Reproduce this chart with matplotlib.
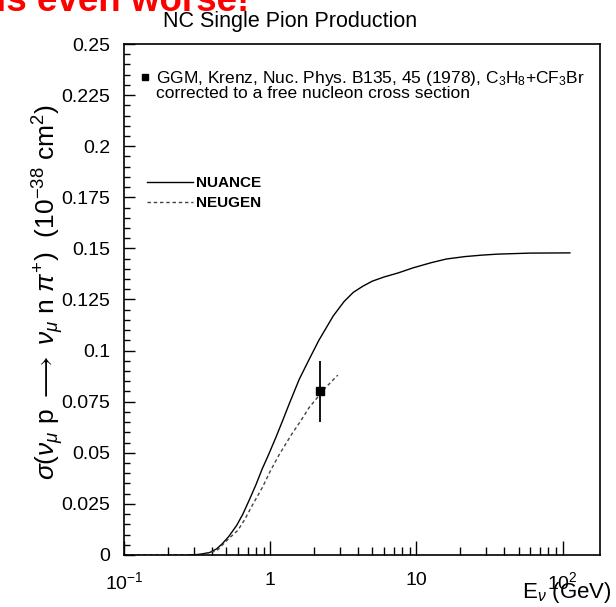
import numpy as np
import matplotlib
matplotlib.use("Agg")
import matplotlib.pyplot as plt
from matplotlib.lines import Line2D
from matplotlib.ticker import FixedLocator, FixedFormatter, LogLocator, MultipleLocator, FormatStrFormatter

# NUANCE (solid)
nuance_e = [0.28, 0.33, 0.385, 0.43, 0.47, 0.52, 0.59, 0.65, 0.72, 0.8, 0.88, 0.98, 1.1,
            1.22, 1.35, 1.58, 1.84, 2.15, 2.7, 3.2, 3.7, 4.3, 5.0, 6.0, 7.5, 9.5, 12.6,
            16.0, 21.5, 28.0, 36.0, 60.0, 112.0]
nuance_xs = [0.0, 0.0003, 0.0012, 0.003, 0.0055, 0.009, 0.0145, 0.020, 0.027, 0.0345, 0.042,
             0.0495, 0.058, 0.066, 0.074, 0.086, 0.0955, 0.105, 0.117, 0.124, 0.1285, 0.1315,
             0.134, 0.136, 0.138, 0.1405, 0.1430, 0.1448, 0.1460, 0.1467, 0.1472, 0.1477, 0.1478]

# NEUGEN (dashed)
neugen_e = [0.1, 0.2, 0.3, 0.35, 0.43, 0.52, 0.6, 0.665, 0.75, 0.883, 1.0, 1.15, 1.4, 1.63,
            1.84, 2.1, 2.4, 2.9]
neugen_xs = [0.0, 0.0, 0.0, 0.0005, 0.002, 0.008, 0.012, 0.017, 0.024, 0.033, 0.041, 0.049,
             0.059, 0.066, 0.072, 0.077, 0.082, 0.088]

# GGM data point
ggm_e = [2.2]
ggm_xs = [0.080]
ggm_err = [0.015]

xtick_vals = [0.1, 1, 10, 100]
xtick_labels = [r"$10^{-1}$", "1", "10", r"$10^{2}$"]

plt.rcParams['font.family'] = ['Liberation Sans', 'DejaVu Sans']
plt.rcParams['mathtext.fontset'] = 'custom'
plt.rcParams['mathtext.rm'] = 'Liberation Sans'
plt.rcParams['mathtext.it'] = 'Liberation Sans:italic'
plt.rcParams['mathtext.bf'] = 'Liberation Sans:bold'

fig = plt.figure(figsize=(6.16, 6.07), dpi=100)
ax = fig.add_axes([0.2013, 0.0857, 0.7727, 0.8418])

ax.plot(nuance_e, nuance_xs, '-', color='black', lw=1.0, label='NUANCE')
ax.plot(neugen_e, neugen_xs, color='#444444', lw=1.0, linestyle=(0, (2.5, 2)), label='NEUGEN')
ax.errorbar(ggm_e, ggm_xs, yerr=ggm_err, fmt='s', color='black', ms=5.5, elinewidth=1.3, capsize=0)

ax.set_xscale('log')
ax.set_xlim(0.1, 180)
ax.set_ylim(0, 0.25)

ax.xaxis.set_major_locator(FixedLocator(xtick_vals))
ax.xaxis.set_major_formatter(FixedFormatter(xtick_labels))
ax.xaxis.set_minor_locator(LogLocator(base=10, subs=np.arange(2, 10)))
ax.xaxis.set_minor_formatter(FixedFormatter([]))
ax.yaxis.set_major_locator(MultipleLocator(0.025))
ax.yaxis.set_minor_locator(MultipleLocator(0.005))
ax.yaxis.set_major_formatter(FormatStrFormatter('%g'))

ax.tick_params(which='both', direction='in', top=False, right=False, labelsize=14, width=1.0)
ax.tick_params(axis='x', which='major', length=10, pad=12)
ax.tick_params(axis='x', which='minor', length=6)
ax.tick_params(axis='y', which='major', length=8, pad=10)
ax.tick_params(axis='y', which='minor', length=4)
for s in ax.spines.values():
    s.set_linewidth(1.2)

fig.text(290 / 616, 1 - 21 / 607, "NC Single Pion Production", fontsize=15.5, ha='center', va='center')
ax.set_ylabel(r"$\sigma(\nu_{\mu}\ \mathrm{p}\ \longrightarrow\ \nu_{\mu}\ \mathrm{n}\ \pi^{+})\ \ (10^{-38}\ \mathrm{cm}^{2})$",
              fontsize=19)
ax.yaxis.set_label_coords(-0.122, 0.515)
fig.text(0.992, 0.003, r"$\mathrm{E}_{\nu}$ (GeV)", fontsize=16, ha='right', va='bottom')

# GGM legend entry: marker on first line only
ggm_handle = Line2D([], [], marker='s', color='black', ls='none', ms=5)
blank = Line2D([], [], ls='none')
leg1 = ax.legend([ggm_handle, blank],
                 ["GGM, Krenz, Nuc. Phys. B135, 45 (1978), C$_3$H$_8$+CF$_3$Br",
                  "corrected to a free nucleon cross section"],
                 loc='upper left', bbox_to_anchor=(0.005, 0.975), frameon=False, fontsize=12.5,
                 handlelength=0.8, handletextpad=0.2, labelspacing=-0.1, borderaxespad=0.3)
ax.add_artist(leg1)

leg2 = ax.legend(loc='upper left', bbox_to_anchor=(0.02, 0.768), frameon=False, fontsize=11,
                 handlelength=3.0, handletextpad=0.2, labelspacing=0.4)
for t in leg2.get_texts():
    t.set_fontweight('bold')

# clipped red remark at the very top
fig.text(-0.006, 1 - 11 / 607, "is even worse!", color='red', fontsize=26.5, fontweight='bold',
         ha='left', va='baseline')

fig.savefig("out.png", dpi=100)
